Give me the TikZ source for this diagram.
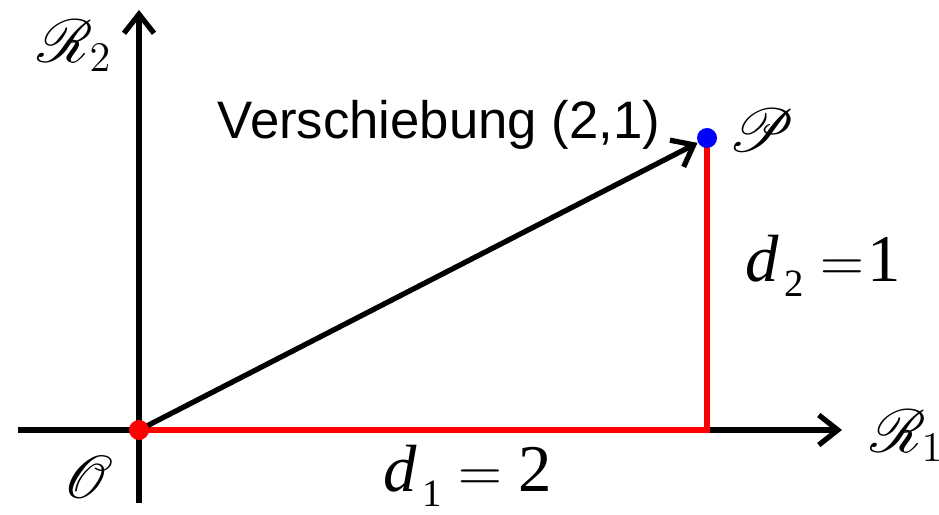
\documentclass[tikz,border=0pt]{standalone}
\usepackage{mathrsfs}
\usepackage{fontspec}
\setmainfont{Liberation Serif}
\newfontfamily\arialfont{Liberation Sans}
\usepackage{tikz}
\usetikzlibrary{arrows.meta}
\newcommand{\lowsub}[1]{\kern1.5pt\raisebox{-0.5ex}{\fontsize{11}{11}\selectfont #1}}

\begin{document}
\begin{tikzpicture}[
    axisline/.style={line width=1.5pt, -{Straight Barb[length=1.9mm, width=3mm, line width=1.5pt]}},
    vecline/.style={line width=1.5pt, -{Straight Barb[length=1.9mm, width=3mm, line width=1.5pt]}},
    leg/.style={line width=1.8pt, red},
    dot/.style={circle, inner sep=0pt, minimum size=2mm},
    cal/.style={font=\fontsize{18}{21}\selectfont},
    dist/.style={font=\fontsize{19}{23}\selectfont},
    vtext/.style={font=\arialfont\fontsize{15}{18}\selectfont}
]
    \useasboundingbox (0,0) rectangle (9.39,5.14);

    % Axis ends
    \coordinate (xl) at (0.18,0.84);
    \coordinate (xr) at (8.42,0.84);
    \coordinate (yb) at (1.39,0.11);
    \coordinate (yt) at (1.39,5.04);
    \coordinate (corner) at (7.07,0.84);

    % Points
    \node[dot] (orig) at (1.39,0.84) {};
    \node[dot] (pt) at (7.07,3.76) {};

    % Axes
    \draw[axisline] (xl) -- (xr);
    \draw[axisline] (yb) -- (yt);

    % Components
    \draw[leg] (orig.center) -- (corner) -- (pt.center);

    % Shift vector
    \draw[vecline] (orig.center) -- (pt);

    \fill[red] (orig) circle (1mm);
    \fill[blue] (pt) circle (1mm);

    % Labels
    \node[cal] (r2) at (0.75,4.68) {$\mathscr{R}_2$};
    \node[cal] (r1) at (9.07,0.78) {$\mathscr{R}_1$};
    \node[cal] (o) at (0.88,0.37) {$\mathscr{O}$};
    \node[cal] (p) at (7.62,3.84) {$\mathscr{P}$};
    \node[vtext] (vs) at (4.39,3.89) {Verschiebung (2,1)};
    \node[dist] (d2) at (8.23,2.48) {\textit{d}\lowsub{2} $=$\kern1pt 1};
    \node[dist] (d1) at (4.68,0.38) {\textit{d}\lowsub{1} $=$ 2};
\end{tikzpicture}
\end{document}
